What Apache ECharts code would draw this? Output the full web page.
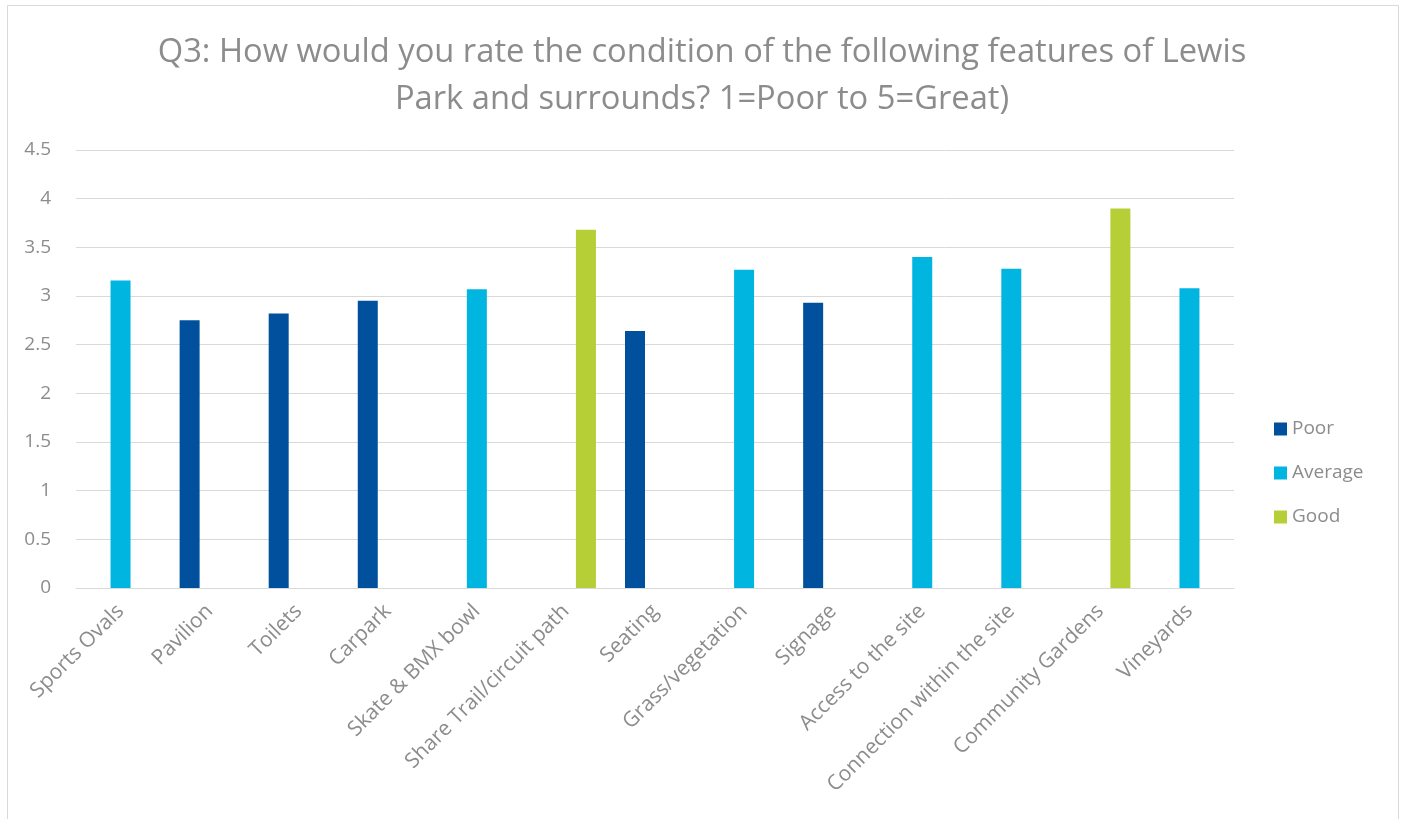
<!DOCTYPE html>
<html>
<head>
<meta charset="utf-8">
<script src="https://cdn.jsdelivr.net/npm/echarts@6/dist/echarts.min.js"></script>
<style>
html,body{margin:0;padding:0;background:#fff;}
#chart{width:1404px;height:819px;}
</style>
</head>
<body>
<div id="chart"></div>
<script>
const titleText = 'Q3: How would you rate the condition of the following features of Lewis\nPark and surrounds? 1=Poor to 5=Great)';
const categories = ['Sports Ovals','Pavilion','Toilets','Carpark','Skate & BMX bowl','Share Trail/circuit path','Seating','Grass/vegetation','Signage','Access to the site','Connection within the site','Community Gardens','Vineyards'];
const seriesNames = ['Poor','Average','Good'];
const poorValues    = [null, 2.75, 2.82, 2.95, null, null, 2.64, null, 2.93, null, null, null, null];
const averageValues = [3.16, null, null, null, 3.07, null, null, 3.27, null, 3.40, 3.28, null, 3.08];
const goodValues    = [null, null, null, null, null, 3.68, null, null, null, null, null, 3.90, null];
const yTicks = {min: 0, max: 4.5, interval: 0.5};

const colors = ['#00509E', '#00B6E0', '#B7CF37'];
const FONT = 'Open Sans';
const chart = echarts.init(document.getElementById('chart'));
const mk = (name, data, i) => ({
  name, type: 'bar', data, barWidth: 20, barGap: '0%',
  itemStyle: {color: colors[i]}
});
chart.setOption({
  animation: false,
  textStyle: {fontFamily: FONT},
  title: {
    text: titleText, left: 'center', top: 24,
    textStyle: {color: '#8C8C8C', fontSize: 32.7, fontWeight: 'normal', fontFamily: FONT, lineHeight: 47}
  },
  graphic: [{
    type: 'rect', shape: {x: 7.5, y: 5.5, width: 1391, height: 830},
    style: {fill: 'none', stroke: '#D9D9D9', lineWidth: 1}, silent: true
  }],
  legend: {
    orient: 'vertical', left: 1269, top: 412, itemGap: 20, align: 'left',
    itemWidth: 13, itemHeight: 13, icon: 'rect',
    textStyle: {color: '#8C8C8C', fontSize: 19, fontFamily: FONT, lineHeight: 24},
    data: seriesNames
  },
  grid: {left: 76, right: 170, top: 150, bottom: 231, containLabel: false},
  xAxis: {
    type: 'category', data: categories,
    axisLine: {lineStyle: {color: '#D9D9D9', width: 1}},
    axisTick: {show: false},
    axisLabel: {rotate: 45, interval: 0, color: '#8C8C8C', fontSize: 21, fontFamily: FONT, margin: 20}
  },
  yAxis: {
    type: 'value', min: yTicks.min, max: yTicks.max, interval: yTicks.interval,
    axisLine: {show: false}, axisTick: {show: false},
    splitLine: {lineStyle: {color: '#D9D9D9', width: 1}},
    axisLabel: {color: '#8C8C8C', fontSize: 19, fontFamily: FONT, margin: 25}
  },
  series: [mk('Poor', poorValues, 0), mk('Average', averageValues, 1), mk('Good', goodValues, 2)]
});
</script>
</body>
</html>
